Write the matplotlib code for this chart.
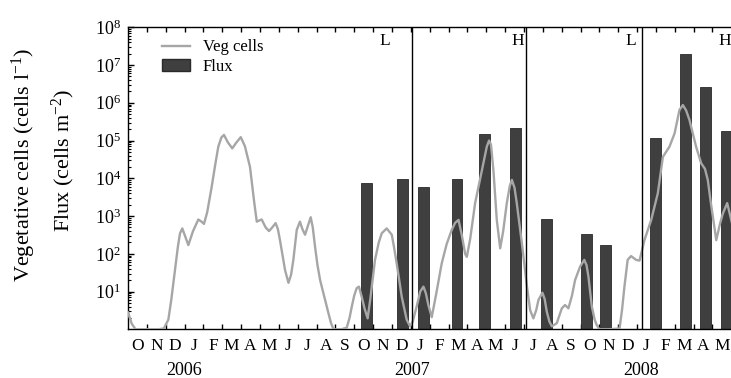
import numpy as np
import matplotlib
matplotlib.use("Agg")
import matplotlib.pyplot as plt
from matplotlib.ticker import FixedLocator, NullFormatter, LogLocator
from matplotlib.lines import Line2D
from matplotlib.patches import Patch

plt.rcParams['font.family'] = ['Liberation Serif', 'DejaVu Serif']
plt.rcParams['mathtext.fontset'] = 'custom'
plt.rcParams['mathtext.rm'] = 'Liberation Serif'
plt.rcParams['mathtext.it'] = 'Liberation Serif:italic'

# months since 1 Oct 2005 (x axis in month units)
months = list("ONDJFMAMJJASONDJFMAMJJASONDJFMAM")
years = ["2006", "2007", "2008"]
year_x = [3.0, 15.07, 27.2]
period_lines = [15.07, 21.1, 27.25]
period_labels = ["L", "H", "L", "H"]
period_label_x = [13.6, 20.65, 26.65, 31.65]

# vegetative cells (cells l-1)
veg_x = [0.00, 0.20, 0.40, 1.0, 1.6, 1.9, 2.14, 2.3, 2.49, 2.65, 2.76, 2.88, 3.0, 3.2,
         3.45, 3.73, 3.9, 4.03, 4.2, 4.44, 4.62, 4.79, 4.95, 5.09, 5.3, 5.53, 5.75,
         5.98, 6.2, 6.47, 6.7, 6.83, 6.95, 7.09, 7.3, 7.48, 7.65, 7.83, 7.95, 8.06,
         8.2, 8.33, 8.51, 8.65, 8.77, 8.95, 9.12, 9.25, 9.39, 9.55, 9.69, 9.8, 9.92,
         10.05, 10.19, 10.45, 10.62, 10.77, 10.9, 11.3, 11.6, 11.75, 11.87, 12.0,
         12.13, 12.25, 12.4, 12.55, 12.71, 12.85, 13.1, 13.3, 13.46, 13.72, 13.99,
         14.1, 14.25, 14.52, 14.78, 14.96, 15.1, 15.31, 15.5, 15.67, 15.8, 15.93,
         16.11, 16.35, 16.64, 16.9, 17.17, 17.35, 17.53, 17.7, 17.88, 17.97, 18.15,
         18.41, 18.6, 18.77, 19.03, 19.15, 19.25, 19.38, 19.56, 19.74, 19.9, 20.09,
         20.25, 20.36, 20.5, 20.62, 20.89, 21.16, 21.33, 21.5, 21.65, 21.77, 21.98,
         22.1, 22.21, 22.35, 22.48, 22.74, 22.9, 23.01, 23.18, 23.36, 23.55, 23.71,
         23.98, 24.2, 24.32, 24.42, 24.6, 24.75, 24.86, 25.0, 25.5, 26.07, 26.2,
         26.33, 26.5, 26.68, 26.95, 27.13, 27.39, 27.75, 28.1, 28.37, 28.72, 28.99,
         29.25, 29.43, 29.6, 29.78, 30.13, 30.4, 30.6, 30.75, 30.9, 31.02, 31.2,
         31.4, 31.55, 31.78, 31.99, 32.2]
veg_cells = [2.8, 1.4, 1, 1, 1, 1.05, 1.8, 6.3, 37, 160, 350, 470, 320, 170,
             400, 810, 710, 620, 1260, 6000, 22000, 69000, 120000, 141000, 89000,
             62000, 89000, 123000, 71000, 20000, 2200, 710, 760, 810, 500, 400,
             500, 650, 450, 230, 89, 37, 17, 28, 69, 430, 710, 450, 320, 560, 930,
             500, 155, 50, 20, 6.0, 2.8, 1.45, 1, 1, 1.1, 2.0, 4.0, 7.9, 12.3, 13.5,
             7.1, 3.5, 1.95, 6.3, 69, 200, 350, 470, 320, 160, 56, 7.2, 1.8, 1.2,
             1.6, 4.0, 10, 13.5, 8.9, 4.4, 2.1, 8.9, 56, 180, 430, 660, 790, 320,
             100, 83, 250, 2200, 6300, 16600, 69000, 100000, 79000, 16600, 790,
             140, 400, 2200, 6300, 9100, 5600, 2200, 190, 13.5, 3.2, 1.95, 3.2, 6.0,
             9.3, 6.3, 2.95, 1.6, 1.2, 1.45, 2.5, 3.6, 4.4, 3.6, 7.9, 20, 46, 69,
             50, 25, 4.0, 1.8, 1.3, 1, 1, 1.05, 3.2, 13.5, 69, 87, 69, 66, 230, 790,
             4000, 37000, 69000, 155000, 650000, 870000, 630000, 350000, 69000,
             25000, 17800, 9100, 2500, 950, 230, 630, 1170, 2200, 790, 320]

# cyst flux (cells m-2)
flux_x = [12.66, 14.55, 15.69, 17.45, 18.9, 20.56, 22.2, 24.3, 25.33, 27.98,
          29.58, 30.64, 31.75]
flux = [7400, 9400, 6000, 9800, 150000, 220000, 850, 335, 167, 120000,
        20000000, 2700000, 180000]

fig = plt.figure(figsize=(7.31, 3.78), dpi=100)
ax = fig.add_axes([128 / 731, 1 - 329.3 / 378, 609 / 731, 302 / 378])

ax.bar(flux_x, flux, width=0.58, color='#3f3f3f', edgecolor='#2a2a2a',
       linewidth=0.6, zorder=2)
ax.plot(veg_x, veg_cells, color='#a6a6a6', lw=1.7, zorder=3,
        solid_joinstyle='round')

for xv in period_lines:
    ax.axvline(xv, color='black', lw=1.0, zorder=4)
for xv, lab in zip(period_label_x, period_labels):
    ax.text(xv, 0.955, lab, transform=ax.get_xaxis_transform(), ha='center',
            va='center', fontsize=12.5)

ax.set_yscale('log')
ax.set_ylim(1, 1e8)
ax.set_xlim(0, 32.3)

ax.yaxis.set_major_locator(FixedLocator([10.0 ** k for k in range(1, 9)]))
ax.yaxis.set_major_formatter(plt.FuncFormatter(
    lambda v, p: r'$10^{%d}$' % round(np.log10(v))))
ax.yaxis.set_minor_locator(LogLocator(base=10, subs=np.arange(2, 10), numticks=20))
ax.yaxis.set_minor_formatter(NullFormatter())
ax.tick_params(axis='y', which='major', direction='in', length=4, width=1,
               labelsize=13, pad=5)
ax.tick_params(axis='y', which='minor', direction='in', length=2, width=0.8)

ax.set_xticks(np.arange(1, 32))
ax.set_xticklabels([])
ax.set_xticks(np.arange(len(months)) + 0.5, minor=True)
ax.set_xticklabels(months, minor=True)
ax.tick_params(axis='x', which='major', direction='in', length=3.5, width=1,
               top=True)
ax.tick_params(axis='x', which='minor', length=0, labelsize=12.5, pad=6)

for xv, yr in zip(year_x, years):
    ax.text(xv, -0.135, yr, transform=ax.get_xaxis_transform(), ha='center',
            va='center', fontsize=13)

for sp in ax.spines.values():
    sp.set_linewidth(1.0)

handles = [Line2D([], [], color='#a6a6a6', lw=1.7),
           Patch(facecolor='#3f3f3f', edgecolor='#2a2a2a')]
ax.legend(handles, ['Veg cells', 'Flux'], loc='upper left',
          bbox_to_anchor=(0.056, 0.96), frameon=False, fontsize=12,
          borderaxespad=0, borderpad=0, handlelength=1.65, handletextpad=0.8,
          labelspacing=0.2)

fig.text(24 / 731, 1 - 165 / 378, r'Vegetative cells (cells l$^{-1}$)',
         rotation=90, ha='center', va='center', fontsize=16)
fig.text(63 / 731, 1 - 160 / 378, r'Flux (cells m$^{-2}$)',
         rotation=90, ha='center', va='center', fontsize=16)

fig.savefig('out.png', dpi=100)
